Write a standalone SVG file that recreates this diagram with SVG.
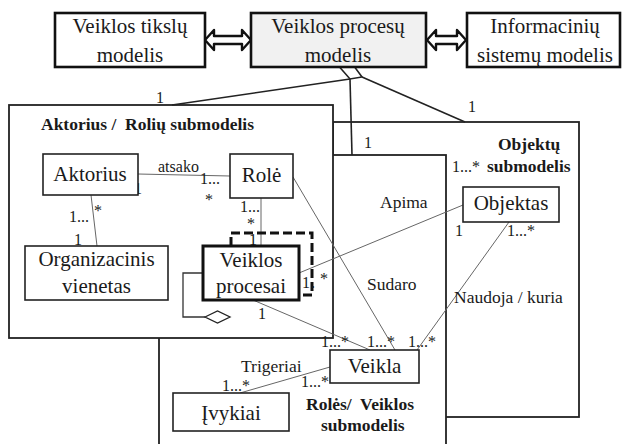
<svg xmlns="http://www.w3.org/2000/svg" width="622" height="444" viewBox="0 0 622 444">
<style>
text{font-family:"Liberation Serif","Times New Roman",serif;fill:#1a1a1a;white-space:pre}
.big{font-size:21px;text-anchor:middle}
.lbl{font-size:17.5px}
.m{font-size:16px}
.b{font-size:17.5px;font-weight:bold}
.box{fill:#fff;stroke:#222;stroke-width:1.6}
.top{fill:#fff;stroke:#111;stroke-width:2.6}
.sub{fill:#fff;stroke:#222;stroke-width:1.8}
.ln{stroke:#666;stroke-width:1;fill:none}
.agg{stroke:#222;stroke-width:1.6;fill:none}
.dbl{fill:#fff;stroke:#111;stroke-width:2.4;stroke-linejoin:round}
</style>

<g id="objektu-submodelis">
<rect class="sub" x="333" y="122" width="246" height="295"/>
<text class="b" x="498" y="150">Objektų</text>
<text class="b" x="487" y="172">submodelis</text>
</g>
<g id="roles-veiklos-submodelis">
<rect class="sub" x="159" y="155" width="287" height="300"/>
<text class="b" x="306" y="410">Rolės/  Veiklos</text>
<text class="b" x="321" y="431">submodelis</text>
</g>
<g id="aktorius-roliu-submodelis">
<rect class="sub" x="9" y="105" width="324" height="233"/>
<text class="b" x="41" y="130">Aktorius /  Rolių submodelis</text>
</g>

<g id="connectors">
<polygon points="336,63 350,79 362,77 351,62" fill="#fff" stroke="#222" stroke-width="1.6"/>
<line class="agg" x1="350" y1="79" x2="172" y2="105"/>
<line class="agg" x1="350" y1="79" x2="352" y2="155"/>
<line class="agg" x1="362" y1="77" x2="465" y2="122"/>
<path class="dbl" d="M205,40 L214,30 L214,36 L242,36 L242,30 L251,40 L242,50 L242,44 L214,44 L214,50 Z"/>
<path class="dbl" d="M427,40 L436,30 L436,36 L457,36 L457,30 L466,40 L457,50 L457,44 L436,44 L436,50 Z"/>
<line class="ln" x1="138" y1="174" x2="230" y2="176"/>
<line class="ln" x1="91" y1="195" x2="97" y2="246"/>
<line class="ln" x1="261" y1="198" x2="261" y2="246"/>
<line class="ln" x1="293" y1="177" x2="395" y2="350"/>
<line class="ln" x1="299" y1="273" x2="463" y2="205"/>
<line class="ln" x1="509" y1="222" x2="417" y2="350"/>
<line class="ln" x1="253" y1="300" x2="370" y2="350"/>
<line class="ln" x1="330" y1="367" x2="240" y2="393"/>
<path d="M231,246 V233 H312 V295 H300" fill="none" stroke="#111" stroke-width="3" stroke-dasharray="9,4"/>
<path d="M203,273 H183 V317 H205" fill="none" stroke="#333" stroke-width="1.3"/>
<polygon points="205,317 217.5,311 230,317 217.5,323" fill="#fff" stroke="#222" stroke-width="1.3"/>
<text class="m" x="156" y="103">1</text>
<text class="m" x="364" y="148">1</text>
<text class="m" x="468" y="112">1</text>
<text class="m" x="158" y="172">atsako</text>
<text class="m" x="134" y="194" font-size="13">1</text>
<text class="m" x="200" y="184">1...</text>
<text class="m" x="205" y="205">*</text>
<text class="m" x="69" y="222">1...</text>
<text class="m" x="94" y="216">*</text>
<text class="m" x="74" y="245">1</text>
<text class="m" x="240" y="212">1...</text>
<text class="m" x="247" y="229">*</text>
<text class="m" x="249" y="245" font-size="13">1</text>
<text class="m" x="302" y="288">1</text>
<text class="m" x="311" y="288">.</text>
<text class="m" x="320" y="284">*</text>
<text class="m" x="258" y="319">1</text>
<text class="lbl" x="380" y="208">Apima</text>
<text class="lbl" x="367" y="290">Sudaro</text>
<text class="lbl" x="454" y="303">Naudoja / kuria</text>
<text class="lbl" x="241" y="372">Trigeriai</text>
<text class="m" x="452" y="172">1...*</text>
<text class="m" x="455" y="236">1</text>
<text class="m" x="507" y="236">1...*</text>
<text class="m" x="321" y="347">1...*</text>
<text class="m" x="367" y="347">1...*</text>
<text class="m" x="408" y="347">1...*</text>
<text class="m" x="222" y="391">1...*</text>
<text class="m" x="301" y="387">1...*</text>
</g>

<g id="veiklos-tikslu-modelis">
<rect class="top" x="55" y="13" width="150" height="54"/>
<text class="big" x="130" y="33">Veiklos tikslų</text>
<text class="big" x="130" y="62">modelis</text>
</g>
<g id="veiklos-procesu-modelis">
<rect class="top" x="251" y="13" width="175" height="54" style="fill:#f1f1f1"/>
<text class="big" x="338" y="33">Veiklos procesų</text>
<text class="big" x="338" y="62">modelis</text>
</g>
<g id="informaciniu-sistemu-modelis">
<rect class="top" x="467" y="13" width="153" height="54"/>
<text class="big" x="545" y="33">Informacinių</text>
<text class="big" x="545" y="62">sistemų modelis</text>
</g>

<g id="aktorius">
<rect class="box" x="43" y="154" width="95" height="41"/>
<text class="big" x="90" y="181">Aktorius</text>
</g>
<g id="role">
<rect class="box" x="230" y="154" width="63" height="44"/>
<text class="big" x="261.5" y="182">Rolė</text>
</g>
<g id="organizacinis-vienetas">
<rect class="box" x="25" y="246" width="143" height="54"/>
<text class="big" x="96.5" y="266">Organizacinis</text>
<text class="big" x="96.5" y="293">vienetas</text>
</g>
<g id="veiklos-procesai">
<rect x="203" y="246" width="96" height="54" fill="#fff" stroke="#111" stroke-width="3"/>
<text class="big" x="251" y="267">Veiklos</text>
<text class="big" x="251" y="293">procesai</text>
</g>
<g id="objektas">
<rect class="box" x="463" y="187" width="96" height="35"/>
<text class="big" x="511" y="210">Objektas</text>
</g>
<g id="veikla">
<rect class="box" x="330" y="350" width="89" height="33"/>
<text class="big" x="374.5" y="373">Veikla</text>
</g>
<g id="ivykiai">
<rect class="box" x="173" y="393" width="116" height="38"/>
<text class="big" x="231" y="420">Įvykiai</text>
</g>
</svg>
